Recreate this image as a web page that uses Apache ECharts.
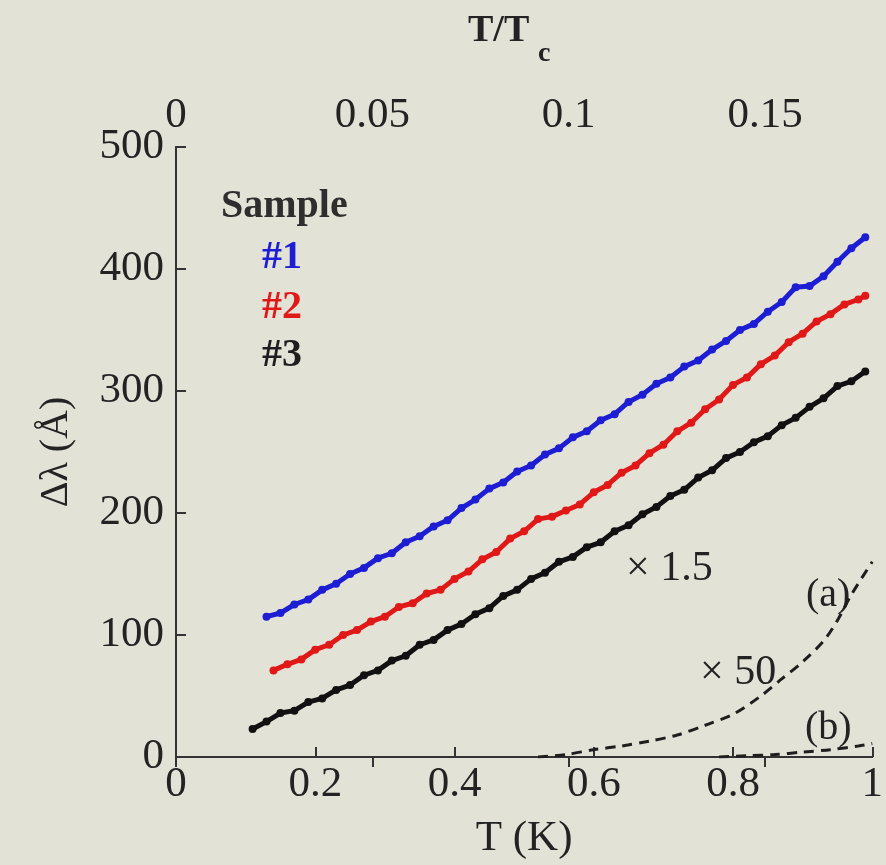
<!DOCTYPE html>
<html>
<head>
<meta charset="utf-8">
<script src="https://cdn.jsdelivr.net/npm/echarts@6/dist/echarts.min.js"></script>
<style>
html,body{margin:0;padding:0;background:#e3e2d6;}
#chart{width:886px;height:865px;}
</style>
</head>
<body>
<div id="chart"></div>
<script>
// Sample #1 (blue)
const T1 = [0.13,0.15,0.17,0.19,0.21,0.23,0.25,0.27,0.29,0.31,0.33,0.35,0.37,0.39,0.41,0.43,0.45,0.47,0.49,0.51,0.53,0.55,0.57,0.59,0.61,0.63,0.65,0.67,0.69,0.71,0.73,0.75,0.77,0.79,0.81,0.83,0.85,0.87,0.89,0.91,0.93,0.95,0.97,0.99];
const DL1 = [115,118,125,129,137,142,150,155,163,167,176,181,189,194,204,211,220,225,234,239,248,253,262,267,276,281,291,297,306,311,320,325,334,341,350,355,365,373,385,386,394,406,417,426];
// Sample #2 (red)
const T2 = [0.14,0.16,0.18,0.20,0.22,0.24,0.26,0.28,0.30,0.32,0.34,0.36,0.38,0.40,0.42,0.44,0.46,0.48,0.50,0.52,0.54,0.56,0.58,0.60,0.62,0.64,0.66,0.68,0.70,0.72,0.74,0.76,0.78,0.80,0.82,0.84,0.86,0.88,0.90,0.92,0.94,0.96,0.98,0.99];
const DL2 = [71,76,80,88,92,100,104,111,115,123,126,134,137,146,152,162,168,179,185,195,197,202,207,217,223,233,239,249,256,267,274,285,293,305,311,322,329,340,347,357,363,371,375,378];
// Sample #3 (black)
const T3 = [0.11,0.13,0.15,0.17,0.19,0.21,0.23,0.25,0.27,0.29,0.31,0.33,0.35,0.37,0.39,0.41,0.43,0.45,0.47,0.49,0.51,0.53,0.55,0.57,0.59,0.61,0.63,0.65,0.67,0.69,0.71,0.73,0.75,0.77,0.79,0.81,0.83,0.85,0.87,0.89,0.91,0.93,0.95,0.97,0.99];
const DL3 = [23,29,36,38,45,48,55,59,67,71,79,83,92,96,104,109,117,122,132,137,146,151,160,164,172,176,185,190,199,205,214,219,229,235,245,250,258,263,272,278,287,294,304,308,316];
// dashed curves (a) x50 and (b)
const TA = [0.52,0.56,0.60,0.64,0.68,0.72,0.76,0.80,0.84,0.87,0.90,0.93,0.95,0.97,1.0];
const DLA = [0,2,6,9,13,18,26,35,50,64,78,95,112,133,160];
const TB = [0.78,0.82,0.86,0.90,0.94,0.98,1.0];
const DLB = [0,1,2,4,6,9,11];
// axis ticks
const X_TICKS = [0,0.2,0.4,0.6,0.8,1];
const X_TOP_TICKS = [0,0.05,0.1,0.15];
const Y_TICKS = [0,100,200,300,400,500];
const TC_INV = 0.1773; // top axis max (T/Tc at T = 1 K)

const FONT = 'Liberation Serif';
const TXT = '#232323';
const AX = '#333333';
const BLUE = '#1d1dd4', RED = '#e01818', BLACK = '#111111';

function zip(a,b){return a.map((v,i)=>[v,b[i]]);}

const chart = echarts.init(document.getElementById('chart'));
const baseLabel = {fontFamily: FONT, fontSize: 43, color: TXT};

chart.setOption({
  backgroundColor: '#e3e2d6',
  animation: false,
  grid: {left: 176, top: 147, right: 2, bottom: 105},
  xAxis: [{
    type: 'value', position: 'bottom', min: X_TICKS[0], max: X_TICKS[X_TICKS.length-1], interval: 0.2,
    axisLine: {show: true, lineStyle: {color: AX, width: 2}},
    axisTick: {show: true, inside: true, length: 10, lineStyle: {color: AX, width: 2}},
    axisLabel: Object.assign({margin: 6, formatter: v => String(+v.toFixed(2))}, baseLabel),
    splitLine: {show: false},
    name: 'T (K)', nameLocation: 'middle', nameGap: 60,
    nameTextStyle: {fontFamily: FONT, fontSize: 43, color: TXT}
  },{
    type: 'value', position: 'top', min: X_TOP_TICKS[0], max: TC_INV, interval: 0.05,
    axisLine: {show: true, lineStyle: {color: AX, width: 2}},
    axisTick: {show: true, inside: true, length: 10, lineStyle: {color: AX, width: 2}},
    axisLabel: Object.assign({margin: 10, formatter: v => String(+v.toFixed(2)), showMaxLabel: false}, baseLabel),
    splitLine: {show: false}
  }],
  yAxis: [{
    type: 'value', min: Y_TICKS[0], max: Y_TICKS[Y_TICKS.length-1], interval: 100,
    axisLine: {show: true, lineStyle: {color: AX, width: 2}},
    axisTick: {show: true, inside: true, length: 10, lineStyle: {color: AX, width: 2}},
    axisLabel: Object.assign({margin: 12}, baseLabel),
    splitLine: {show: false},
    name: 'Δλ (Å)', nameLocation: 'middle', nameGap: 100, nameRotate: 90,
    nameTextStyle: {fontFamily: FONT, fontSize: 40, color: TXT}
  },{
    type: 'value', position: 'right', min: 0, max: 500,
    axisLine: {show: true, lineStyle: {color: AX, width: 2}},
    axisTick: {show: false}, axisLabel: {show: false}, splitLine: {show: false}
  }],
  series: [
    {name: '#1', type: 'line', data: zip(T1, DL1), symbol: 'circle', symbolSize: 8, showAllSymbol: true,
     itemStyle: {color: BLUE}, lineStyle: {color: BLUE, width: 5}},
    {name: '#2', type: 'line', data: zip(T2, DL2), symbol: 'circle', symbolSize: 8, showAllSymbol: true,
     itemStyle: {color: RED}, lineStyle: {color: RED, width: 5}},
    {name: '#3', type: 'line', data: zip(T3, DL3), symbol: 'circle', symbolSize: 8, showAllSymbol: true,
     itemStyle: {color: BLACK}, lineStyle: {color: BLACK, width: 5}},
    {name: '(a)', type: 'line', data: zip(TA, DLA), symbol: 'none', smooth: 0.3,
     lineStyle: {color: '#1e1e1e', width: 3, type: [10, 7]}},
    {name: '(b)', type: 'line', data: zip(TB, DLB), symbol: 'none', smooth: 0.3,
     lineStyle: {color: '#1e1e1e', width: 3, type: [10, 7]}}
  ],
  graphic: [
    {type: 'text', left: 468, top: 12, style: {text: 'T/T', font: 'bold 38px "Liberation Serif"', fill: TXT}},
    {type: 'text', left: 538, top: 40, style: {text: 'c', font: 'bold 28px "Liberation Serif"', fill: TXT}},
    {type: 'text', left: 221, top: 187, style: {text: 'Sample', font: 'bold 40px "Liberation Serif"', fill: '#2e2e2e'}},
    {type: 'text', left: 262, top: 238, style: {text: '#1', font: 'bold 40px "Liberation Serif"', fill: BLUE}},
    {type: 'text', left: 262, top: 288, style: {text: '#2', font: 'bold 40px "Liberation Serif"', fill: RED}},
    {type: 'text', left: 262, top: 336, style: {text: '#3', font: 'bold 40px "Liberation Serif"', fill: '#1e1e1e'}},
    {type: 'text', left: 626, top: 548, style: {text: '× 1.5', font: '42px "Liberation Serif"', fill: TXT}},
    {type: 'text', left: 806, top: 575, style: {text: '(a)', font: '40px "Liberation Serif"', fill: TXT}},
    {type: 'text', left: 700, top: 652, style: {text: '× 50', font: '42px "Liberation Serif"', fill: TXT}},
    {type: 'text', left: 805, top: 708, style: {text: '(b)', font: '40px "Liberation Serif"', fill: TXT}}
  ]
});
</script>
</body>
</html>
